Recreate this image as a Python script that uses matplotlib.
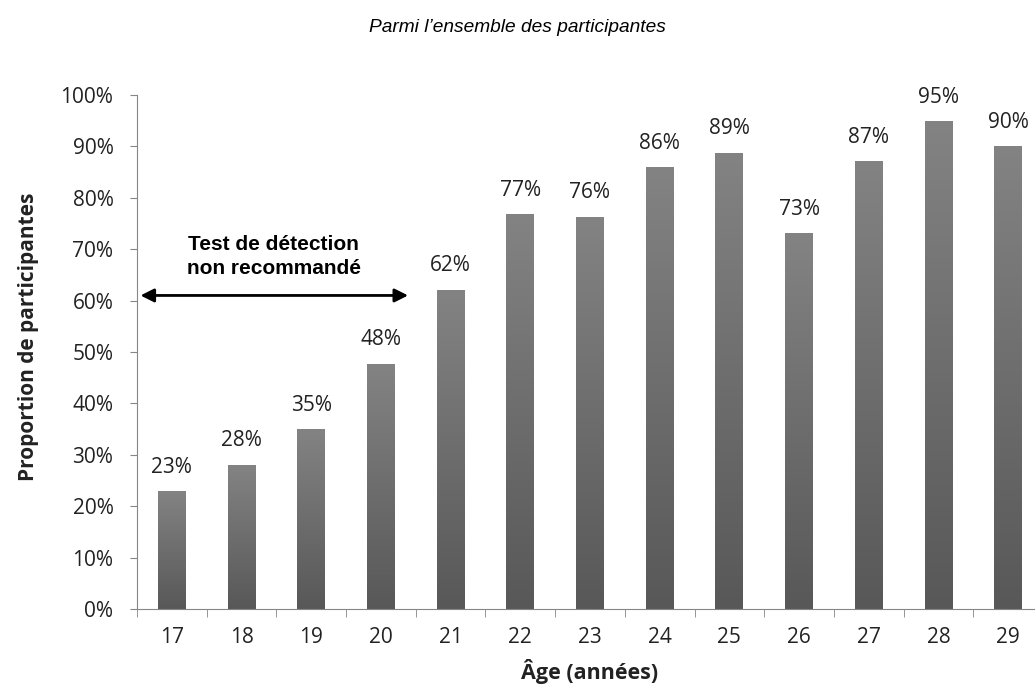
import numpy as np
import matplotlib.pyplot as plt

# Data
ages = ['17', '18', '19', '20', '21', '22', '23', '24', '25', '26', '27', '28', '29']
values = [22.8, 28.0, 34.9, 47.6, 62.0, 76.7, 76.2, 85.8, 88.7, 73.0, 87.0, 94.8, 89.9]
labels = ['23%', '28%', '35%', '48%', '62%', '77%', '76%', '86%', '89%', '73%', '87%', '95%', '90%']
yticks = [0, 10, 20, 30, 40, 50, 60, 70, 80, 90, 100]

axis_gray = '#868686'
tick_font = 'Open Sans'
txt_color = '#222222'

fig = plt.figure(figsize=(10.35, 6.96), dpi=100)
# axes extends past the right edge, as in the reference
ax = fig.add_axes([137 / 1035, 1 - 609 / 696, 906 / 1035, 514 / 696])

x = np.arange(len(ages))
bars = ax.bar(x, values, width=0.4, color='none', zorder=2)

# vertical gradient fill inside each bar
grad = np.linspace(0, 1, 256).reshape(-1, 1)
cmap = plt.matplotlib.colors.LinearSegmentedColormap.from_list('g', ['#585858', '#838383'])
for b in bars:
    x0, w, h = b.get_x(), b.get_width(), b.get_height()
    ax.imshow(grad, extent=(x0, x0 + w, 0, h), origin='lower', cmap=cmap,
              aspect='auto', zorder=2)

for xi, v, lab in zip(x, values, labels):
    ax.annotate(lab, (xi, v), xytext=(0, 10), textcoords='offset points',
                ha='center', va='bottom', fontsize=15, family=tick_font, color=txt_color)

ax.set_xlim(-0.5, len(ages) - 0.5)
ax.set_ylim(0, 100)
ax.set_yticks(yticks)
ax.set_yticklabels([f'{t}%' for t in yticks], family=tick_font, fontsize=15, color=txt_color)
ax.set_xticks(x)
ax.set_xticklabels(ages, family=tick_font, fontsize=15, color=txt_color)
ax.set_xticks(np.arange(-0.5, len(ages), 1), minor=True)
ax.tick_params(axis='x', which='major', length=0, pad=13)
ax.tick_params(axis='x', which='minor', length=6, color=axis_gray, direction='out')
ax.tick_params(axis='y', length=5, color=axis_gray, direction='out', pad=12)

for s in ['top', 'right']:
    ax.spines[s].set_visible(False)
for s in ['left', 'bottom']:
    ax.spines[s].set_color(axis_gray)

ax.set_ylabel('Proportion de participantes', family=tick_font, fontweight='bold',
              fontsize=15, color=txt_color)
ax.yaxis.set_label_coords(-0.108, 0.53)
ax.set_xlabel('Âge (années)', family=tick_font, fontweight='bold',
              fontsize=15.5, color=txt_color, labelpad=8)

# annotation: not-recommended range
ax.annotate('', xy=(-0.45, 61), xytext=(3.39, 61),
            arrowprops=dict(arrowstyle='<|-|>', color='black', lw=2,
                            mutation_scale=20, shrinkA=0, shrinkB=0))
ax.text(1.46, 68.6, 'Test de détection\nnon recommandé', ha='center', va='center',
        fontsize=15, fontweight='bold', family='Liberation Sans', linespacing=1.35)

fig.text(517 / 1035, 1 - 28 / 696, 'Parmi l\u2019ensemble des participantes',
         ha='center', va='center', fontsize=13.8, style='italic', family='Liberation Sans')

fig.savefig('out.png', dpi=100)
